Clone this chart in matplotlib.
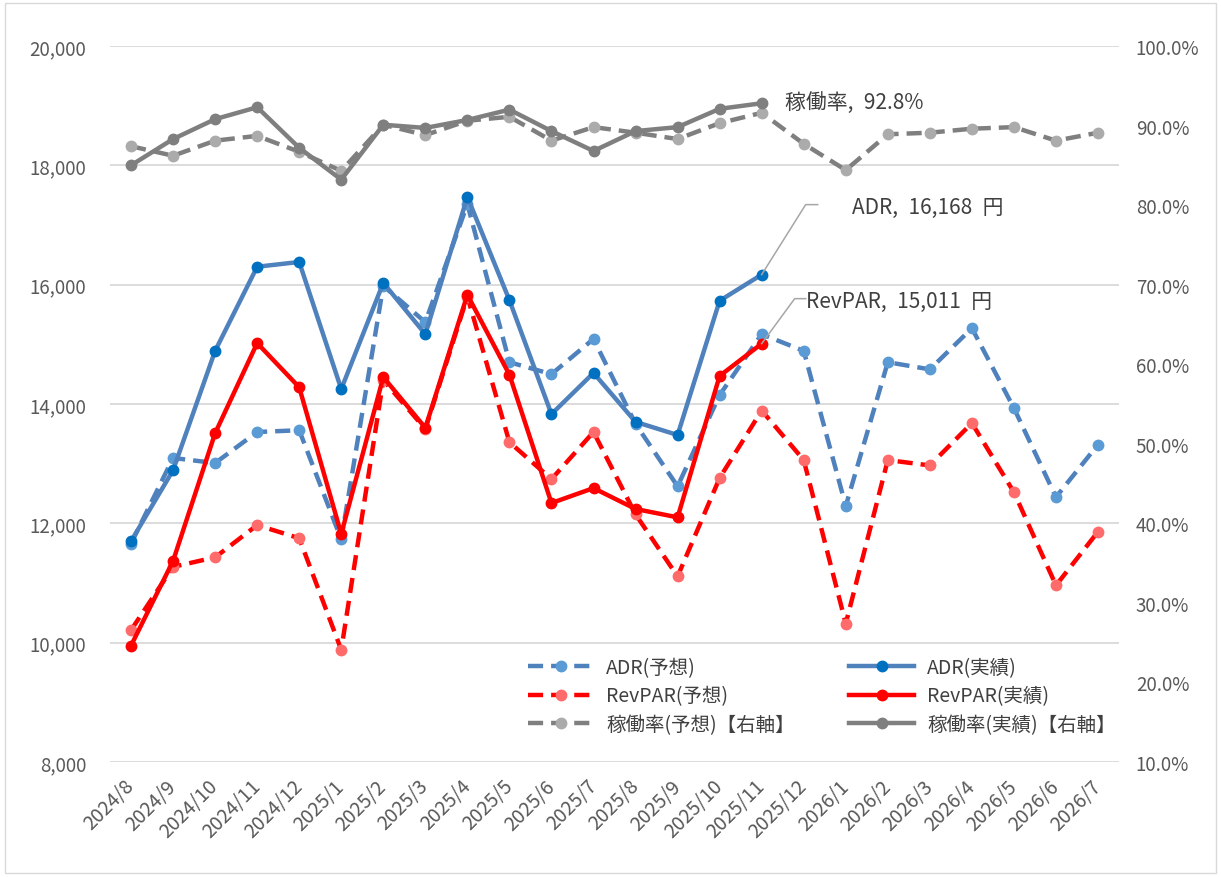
import numpy as np
import matplotlib
matplotlib.use('Agg')
import matplotlib.pyplot as plt
import matplotlib.transforms as mtransforms
from matplotlib.ticker import FuncFormatter

plt.rcParams['font.family'] = ['Noto Sans CJK JP', 'DejaVu Sans']

months = ['2024/8', '2024/9', '2024/10', '2024/11', '2024/12', '2025/1', '2025/2', '2025/3',
          '2025/4', '2025/5', '2025/6', '2025/7', '2025/8', '2025/9', '2025/10', '2025/11',
          '2025/12', '2026/1', '2026/2', '2026/3', '2026/4', '2026/5', '2026/6', '2026/7']

# forecast (all 24 months)
adr_fc = [11660, 13095, 13010, 13530, 13560, 11730, 15980, 15370, 17350, 14700, 14500, 15090,
          13665, 12620, 14150, 15170, 14890, 12290, 14700, 14580, 15270, 13930, 12440, 13320]
revpar_fc = [10210, 11270, 11430, 11970, 11750, 9880, 14400, 13580, 15800, 13360, 12740, 13530,
             12150, 11110, 12760, 13890, 13060, 10320, 13060, 12970, 13680, 12520, 10960, 11860]
occ_fc = [87.4, 86.2, 88.1, 88.7, 86.7, 84.3, 90.1, 88.8, 90.6, 91.1, 88.1, 89.8,
          89.1, 88.3, 90.3, 91.6, 87.7, 84.4, 88.9, 89.1, 89.6, 89.8, 88.1, 89.1]

# actual (up to 2025/11)
adr_act = [11700, 12890, 14890, 16300, 16380, 14250, 16030, 15170, 17470, 15740, 13830, 14520,
           13700, 13480, 15730, 16168]
revpar_act = [9950, 11370, 13510, 15020, 14280, 11820, 14450, 13600, 15830, 14490, 12340, 12590,
              12240, 12100, 14470, 15011]
occ_act = [85.0, 88.3, 90.8, 92.3, 87.2, 83.2, 90.1, 89.7, 90.7, 92.0, 89.3, 86.8,
           89.3, 89.8, 92.1, 92.8]

fig = plt.figure(figsize=(12.21, 8.78), dpi=100)
ax = fig.add_subplot(111)
ax2 = ax.twinx()
plt.subplots_adjust(left=0.0901, right=0.9165, bottom=0.131, top=0.9465)

x_fc = np.arange(len(months))
x_act = np.arange(len(adr_act))
dash = (3.4, 1.8)
lw = 3.2
ms = 7.5

blue_line, blue_mk, blue_mk_fc = '#4F81BD', '#0070C0', '#5B9BD5'
red_line, red_mk, red_mk_fc = '#FF0000', '#FF0000', '#FF6B6B'
gray_line, gray_mk, gray_mk_fc = '#7F7F7F', '#7F7F7F', '#ABABAB'

h_adr_fc, = ax.plot(x_fc, adr_fc, color=blue_line, lw=lw, dashes=dash, marker='o', ms=ms,
                    mfc=blue_mk_fc, mec=blue_mk_fc, label='ADR(予想)', zorder=3)
h_rev_fc, = ax.plot(x_fc, revpar_fc, color=red_line, lw=lw, dashes=dash, marker='o', ms=ms,
                    mfc=red_mk_fc, mec=red_mk_fc, label='RevPAR(予想)', zorder=3)
h_adr, = ax.plot(x_act, adr_act, color=blue_line, lw=lw, marker='o', ms=ms,
                 mfc=blue_mk, mec=blue_mk, label='ADR(実績)', zorder=4)
h_rev, = ax.plot(x_act, revpar_act, color=red_line, lw=lw, marker='o', ms=ms,
                 mfc=red_mk, mec=red_mk, label='RevPAR(実績)', zorder=4)

h_occ_fc, = ax2.plot(x_fc, occ_fc, color=gray_line, lw=lw, dashes=dash, marker='o', ms=ms,
                     mfc=gray_mk_fc, mec=gray_mk_fc, label='稼働率(予想)【右軸】', zorder=3)
h_occ, = ax2.plot(x_act, occ_act, color=gray_line, lw=lw, marker='o', ms=ms,
                  mfc=gray_mk, mec=gray_mk, label='稼働率(実績)【右軸】', zorder=4)

ax.set_xlim(-0.5, len(months) - 0.5)
ax.set_ylim(8000, 20000)
ax.set_yticks(np.arange(8000, 20001, 2000))
ax.yaxis.set_major_formatter(FuncFormatter(lambda v, p: f'{int(v):,}'))
ax2.set_ylim(10, 100)
ax2.set_yticks(np.arange(10, 101, 10))
ax2.yaxis.set_major_formatter(FuncFormatter(lambda v, p: f'{v:.1f}%'))

ax.grid(axis='y', color='#D9D9D9', lw=1.3)
ax.set_axisbelow(True)
for a in (ax, ax2):
    for s in a.spines.values():
        s.set_visible(False)
    a.tick_params(length=0, labelsize=13.5, labelcolor='#595959')
ax.tick_params(axis='y', pad=17)
ax2.tick_params(axis='y', pad=12)

ax.set_xticks(x_fc)
ax.set_xticklabels(months, rotation=45, ha='right', va='center', rotation_mode='anchor',
                   fontsize=14)
ax.tick_params(axis='x', pad=15)

# data labels with leader lines
sp = '\u2002'
ax2.annotate('稼働率,' + sp + '92.8%', xy=(x_act[-1], occ_act[-1]), xytext=(23, 0),
             textcoords='offset pixels', va='center', ha='left', fontsize=15, color='#404040')

fig.canvas.draw()
px, py = ax.transData.transform((x_act[-1], adr_act[-1]))
ax.plot([0, 44, 56], [0, 70, 70], color='#A6A6A6', lw=1.1, clip_on=False, zorder=5,
        transform=mtransforms.Affine2D().translate(px, py))
ax.annotate('ADR,' + sp + '16,168' + sp + '円', xy=(x_act[-1], adr_act[-1]), xytext=(90, 68),
            textcoords='offset pixels', va='center', ha='left', fontsize=15, color='#404040')
px, py = ax.transData.transform((x_act[-1], revpar_act[-1]))
ax.plot([0, 33, 44], [0, 45, 45], color='#A6A6A6', lw=1.1, clip_on=False, zorder=5,
        transform=mtransforms.Affine2D().translate(px, py))
ax.annotate('RevPAR,' + sp + '15,011' + sp + '円', xy=(x_act[-1], revpar_act[-1]), xytext=(44, 43),
            textcoords='offset pixels', va='center', ha='left', fontsize=15, color='#404040')

# legend filled column-wise: left column forecasts, right column actuals
handles = [h_adr_fc, h_rev_fc, h_occ_fc, h_adr, h_rev, h_occ]
leg = ax2.legend(handles=handles, labels=[h.get_label() for h in handles], ncol=2,
                 loc='upper left', bbox_to_anchor=(0.4147, 0.1466),
                 frameon=True, fancybox=False, edgecolor='none', framealpha=1,
                 fontsize=14, handlelength=3.35, numpoints=1, labelspacing=0.39,
                 borderpad=0, borderaxespad=0, handletextpad=0.65, columnspacing=2.8)
for t in leg.get_texts():
    t.set_color('#404040')

# outer chart border
fig.patches.append(plt.Rectangle((0.004, 0.004), 0.992, 0.992, transform=fig.transFigure,
                                 fill=False, edgecolor='#D9D9D9', lw=1))

fig.savefig('out.png', dpi=100)
